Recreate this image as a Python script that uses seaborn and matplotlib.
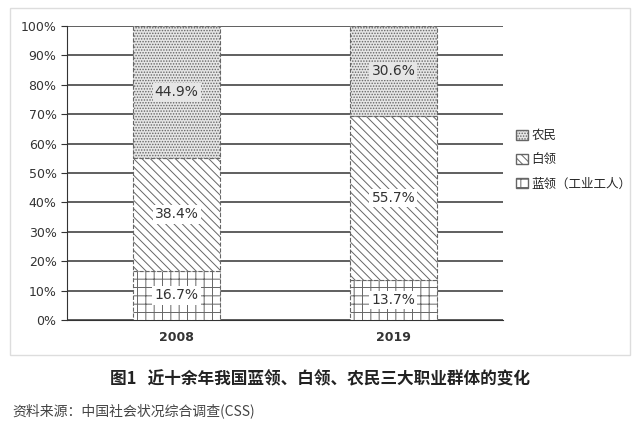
import pandas as pd
import seaborn as sns
import matplotlib.pyplot as plt
from matplotlib.patches import Rectangle, Patch

years = ['2008', '2019']
groups = ['蓝领（工业工人）', '白领', '农民']
blue_collar = [16.7, 13.7]
white_collar = [38.4, 55.7]
farmers = [44.9, 30.6]

sns.set_style('white')
plt.rcParams['font.family'] = ['Noto Sans CJK SC', 'DejaVu Sans']
plt.rcParams['hatch.color'] = '#a8a8a8'
plt.rcParams['hatch.linewidth'] = 0.7

fig = plt.figure(figsize=(6.41, 4.29), dpi=100)
ax = fig.add_axes([67 / 641, 1 - 320 / 429, 436 / 641, 294 / 429])

# 外框
fig.patches.append(Rectangle((10 / 641, 1 - 355 / 429), 620 / 641, 347 / 429,
                             transform=fig.transFigure, fill=False,
                             edgecolor='#dddddd', lw=1))

series = [blue_collar, white_collar, farmers]
hatches = ['++', '\\\\\\\\', '......']
faces = ['white', 'white', '#e6e6e6']
bottom = [0, 0]
for vals, h, fc in zip(series, hatches, faces):
    df = pd.DataFrame({'year': years, 'v': vals})
    sns.barplot(data=df, x='year', y='v', ax=ax, width=0.4, color=fc,
                hatch=h, edgecolor='#666666', linewidth=0.8, linestyle='--',
                bottom=bottom, zorder=3)
    for i, v in enumerate(vals):
        ax.text(i, bottom[i] + v / 2, f'{v}%', ha='center', va='center',
                fontsize=10, color='#333333', family='DejaVu Sans', zorder=5,
                bbox=dict(facecolor=fc, edgecolor='none', pad=1.5))
    bottom = [b + v for b, v in zip(bottom, vals)]

ax.set_xlim(-0.505, 1.505)
ax.set_ylim(0, 100)
ax.set_yticks(range(0, 101, 10))
ax.set_yticklabels([f'{t}%' for t in range(0, 101, 10)], family='DejaVu Sans',
                   fontsize=9, color='#333333')
ax.set_xticklabels(years, family='DejaVu Sans', fontsize=9, fontweight='bold',
                   color='#333333')
ax.yaxis.grid(True, color='#444444', lw=1.2, zorder=0)
ax.tick_params(axis='y', length=4, left=True, color='#333333')
ax.tick_params(axis='x', length=0, pad=8)
ax.set_xlabel('')
ax.set_ylabel('')
for s in ['top', 'right']:
    ax.spines[s].set_visible(False)
ax.spines['left'].set_color('#333333')
ax.spines['bottom'].set_color('#333333')

handles = [Patch(facecolor=faces[i], hatch=hatches[i], edgecolor='#666666')
           for i in (2, 1, 0)]
ax.legend(handles, [groups[2], groups[1], groups[0]], loc='center left',
          bbox_to_anchor=(1.005, 0.545), frameon=False, fontsize=9,
          handlelength=0.9, handleheight=0.9, handletextpad=0.3,
          labelspacing=0.9)

fig.text(0.5, 1 - 379 / 429, '图1   近十余年我国蓝领、白领、农民三大职业群体的变化',
         ha='center', va='center', fontsize=12, fontweight='bold', color='#222222')
fig.text(12 / 641, 1 - 411 / 429, '资料来源：中国社会状况综合调查(CSS)',
         ha='left', va='center', fontsize=10, color='#444444')

fig.savefig('out.png', dpi=100)
